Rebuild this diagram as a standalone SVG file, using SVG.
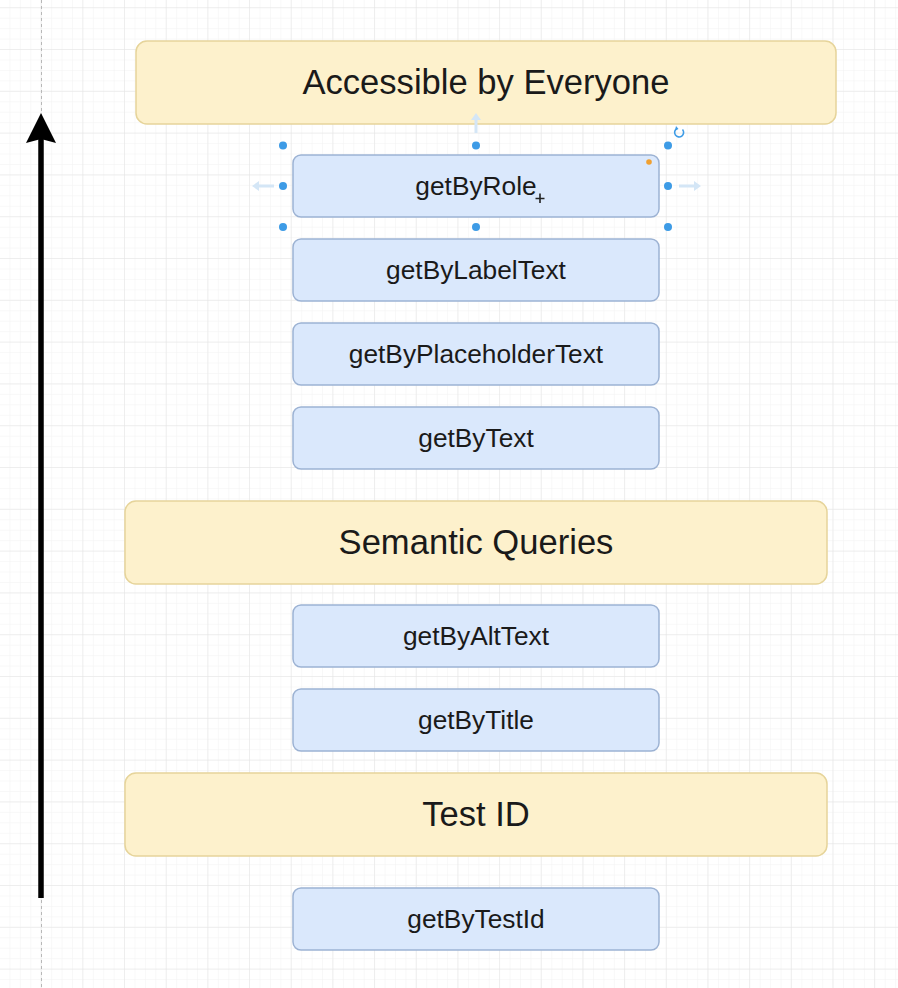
<svg xmlns="http://www.w3.org/2000/svg" width="898" height="988" viewBox="0 0 898 988">
  <defs>
    <pattern id="minor" width="10.42" height="10.45" patternUnits="userSpaceOnUse" x="0" y="8.2">
      <path d="M10.42 0V10.45M0 10.45H10.42" fill="none" stroke="#f2f2f2" stroke-width="1"/>
    </pattern>
    <pattern id="major" width="41.67" height="41.8" patternUnits="userSpaceOnUse" x="0" y="8.2">
      <path d="M41.67 0V41.8M0 41.8H41.67" fill="none" stroke="#e4e4e4" stroke-width="1"/>
    </pattern>
    <marker id="head" viewBox="0 0 30 30" refX="4" refY="15" markerWidth="30" markerHeight="30" markerUnits="userSpaceOnUse" orient="auto">
      <path d="M0 0 L30 15 L0 30 L4 15 Z" fill="#000"/>
    </marker>
  </defs>
  <style>
    .y { fill: #fdf1cc; stroke: #e6d49a; stroke-width: 1.5; }
    .b { fill: #dae8fc; stroke: #9cb2d3; stroke-width: 1.5; }
    .tl { font-family: "Liberation Sans", Arial, sans-serif; font-size: 34.6px; fill: #1a1a1a; text-anchor: middle; }
    .ts { font-family: "Liberation Sans", Arial, sans-serif; font-size: 26.3px; fill: #1a1a1a; text-anchor: middle; }
    .h { fill: #3d9be6; }
    .ghost { fill: #d4e6f6; }
  </style>
  <rect width="898" height="988" fill="#fff"/>
  <rect width="898" height="988" fill="url(#minor)"/>
  <rect width="898" height="988" fill="url(#major)"/>
  <line x1="41.5" y1="0" x2="41.5" y2="988" stroke="#b8b8b8" stroke-width="1" stroke-dasharray="3 3"/>

  <g id="connectors">
    <line x1="41" y1="898" x2="41" y2="139" stroke="#000" stroke-width="5.5" marker-end="url(#head)"/>
  </g>

  <g id="accessible">
    <rect class="y" x="136" y="41" width="700" height="83" rx="11"/>
    <text class="tl" x="486" y="94">Accessible by Everyone</text>
  </g>
  <g id="getByRole">
    <rect class="b" x="293" y="155" width="366" height="62" rx="8"/>
    <text class="ts" x="476" y="195">getByRole</text>
  </g>
  <g id="getByLabelText">
    <rect class="b" x="293" y="239" width="366" height="62" rx="8"/>
    <text class="ts" x="476" y="279">getByLabelText</text>
  </g>
  <g id="getByPlaceholderText">
    <rect class="b" x="293" y="323" width="366" height="62" rx="8"/>
    <text class="ts" x="476" y="363">getByPlaceholderText</text>
  </g>
  <g id="getByText">
    <rect class="b" x="293" y="407" width="366" height="62" rx="8"/>
    <text class="ts" x="476" y="447">getByText</text>
  </g>
  <g id="semantic">
    <rect class="y" x="125" y="501" width="702" height="83" rx="11"/>
    <text class="tl" x="476" y="554">Semantic Queries</text>
  </g>
  <g id="getByAltText">
    <rect class="b" x="293" y="605" width="366" height="62" rx="8"/>
    <text class="ts" x="476" y="645">getByAltText</text>
  </g>
  <g id="getByTitle">
    <rect class="b" x="293" y="689" width="366" height="62" rx="8"/>
    <text class="ts" x="476" y="729">getByTitle</text>
  </g>
  <g id="testid">
    <rect class="y" x="125" y="773" width="702" height="83" rx="11"/>
    <text class="tl" x="476" y="826">Test ID</text>
  </g>
  <g id="getByTestId">
    <rect class="b" x="293" y="888" width="366" height="62" rx="8"/>
    <text class="ts" x="476" y="928">getByTestId</text>
  </g>

  <g id="selection">
    <path class="ghost" d="M252 186 L259 181 L259 184.5 L274 184.5 L274 187.5 L259 187.5 L259 191 Z"/>
    <path class="ghost" d="M701 186 L694 181 L694 184.5 L679 184.5 L679 187.5 L694 187.5 L694 191 Z"/>
    <path class="ghost" d="M476 113 L471 120 L474.5 120 L474.5 133 L477.5 133 L477.5 120 L481 120 Z"/>
    <circle class="h" cx="283" cy="145.5" r="4"/>
    <circle class="h" cx="476" cy="145.5" r="4"/>
    <circle class="h" cx="668" cy="145.5" r="4"/>
    <circle class="h" cx="283" cy="186" r="4"/>
    <circle class="h" cx="668" cy="186" r="4"/>
    <circle class="h" cx="283" cy="227" r="4"/>
    <circle class="h" cx="476" cy="227" r="4"/>
    <circle class="h" cx="668" cy="227" r="4"/>
    <path d="M677 128.5 A4.5 4.5 0 1 0 682.5 129.5" fill="none" stroke="#3d9be6" stroke-width="1.6"/>
    <path d="M676 126 L678.5 129 L675 130.5 Z" fill="#3d9be6"/>
    <circle cx="649" cy="162" r="2.8" fill="#f0a030"/>
    <path d="M540 193.5V203M535.5 198.5H544.5" stroke="#222" stroke-width="1.6"/>
  </g>
</svg>
